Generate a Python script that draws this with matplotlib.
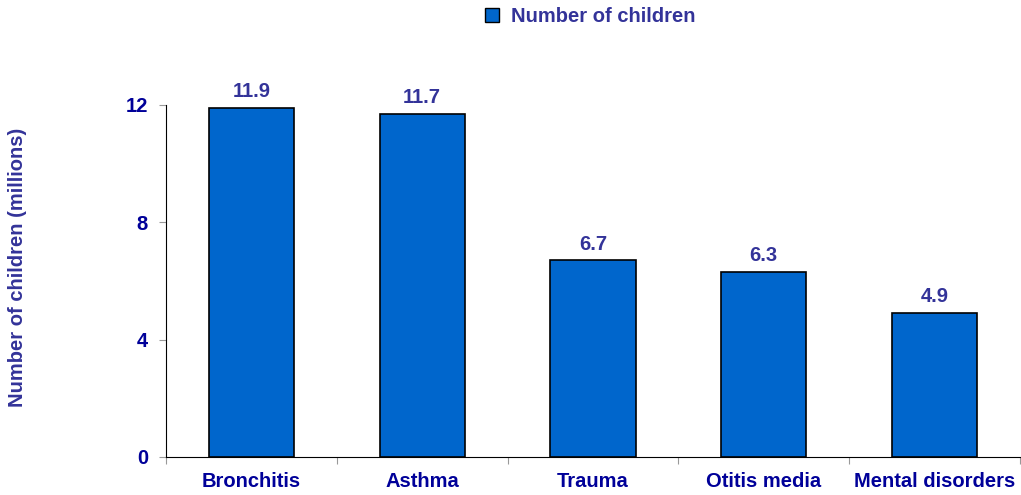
import matplotlib
matplotlib.use("Agg")
import matplotlib.pyplot as plt
from matplotlib.patches import Patch

categories = ["Bronchitis", "Asthma", "Trauma", "Otitis media", "Mental disorders"]
values = [11.9, 11.7, 6.7, 6.3, 4.9]
labels = ["11.9", "11.7", "6.7", "6.3", "4.9"]
yticks = [0, 4, 8, 12]

plt.rcParams['font.family'] = ['Liberation Sans', 'DejaVu Sans']
plt.rcParams['font.weight'] = 'bold'
FS = 14.5

fig = plt.figure(figsize=(10.21, 4.95), dpi=100)
ax = fig.add_axes([0.1626, 0.0768, 0.8364, 0.7111])

x = list(range(len(categories)))
ax.bar(x, values, width=0.5, color="#0066CC", edgecolor="black", linewidth=1.2,
       label="Number of children", clip_on=False)
for xi, v, lab in zip(x, values, labels):
    ax.annotate(lab, (xi, v), xytext=(0, 5), textcoords="offset points",
                ha="center", va="bottom", fontsize=FS, fontweight="bold", color="#333399",
                annotation_clip=False)

ax.set_xlim(-0.5, len(categories) - 0.5)
ax.set_ylim(0, 12)
ax.set_yticks(yticks)
ax.set_yticklabels([str(t) for t in yticks], fontsize=FS, fontweight="bold", color="#000099")
ax.set_xticks([i + 0.5 for i in range(-1, len(categories))])
ax.set_xticklabels([])
ax.set_xticks(x, minor=True)
ax.set_xticklabels(categories, minor=True, fontsize=FS, fontweight="bold", color="#000099")
ax.tick_params(axis="x", which="minor", length=0, pad=11)
ax.tick_params(axis="x", which="major", length=5, color="#999999", direction="out")
ax.tick_params(axis="y", length=5, color="#999999", direction="out", pad=8)

for s in ["top", "right"]:
    ax.spines[s].set_visible(False)
ax.spines["left"].set_color("black")
ax.spines["bottom"].set_color("black")

fig.text(18 / 1021, 0.4596, "Number of children (millions)", rotation=90,
         ha="center", va="center", fontsize=FS, fontweight="bold", color="#333399")

fig.legend(handles=[Patch(facecolor="#0066CC", edgecolor="black", label="Number of children")],
           loc="center", bbox_to_anchor=(0.578, 0.967), frameon=False,
           labelcolor="#333399", handlelength=0.7, handleheight=0.7, handletextpad=0.6,
           prop={'weight': 'bold', 'size': FS})

fig.savefig("out.png", dpi=100)
